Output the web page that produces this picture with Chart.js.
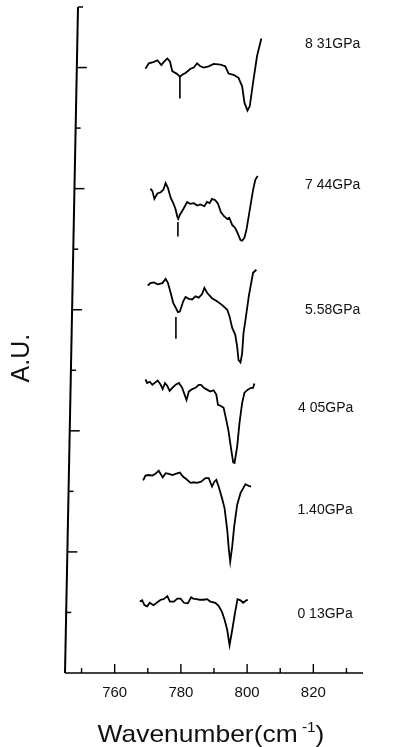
<!DOCTYPE html>
<html>
<head>
<meta charset="utf-8">
<script src="https://cdn.jsdelivr.net/npm/chart.js@4.4.1/dist/chart.umd.min.js"></script>
<style>
  html, body { margin: 0; padding: 0; background: #ffffff; }
  canvas { display: block; }
</style>
</head>
<body>
<canvas id="c" width="399" height="747"></canvas>
<script>
// ---- Data (wavenumber in cm^-1, intensity in arbitrary units incl. vertical offset) ----
const p831X = [769.3,770.3,771.7,772.9,774.1,774.8,775.9,776.7,777.4,778.7,779.7,780.4,781.4,782.9,783.9,784.9,785.9,786.9,788.4,789.9,791.9,793.4,794.4,795.9,797.4,798.5,799.2,800.1,800.8,801.8,803.0,804.3];
const p831Y = [9.98,10.07,10.09,10.12,10.04,10.09,10.15,10.10,9.94,9.90,9.85,9.88,9.91,9.98,10.00,10.07,10.02,10.00,10.02,10.06,10.05,10.02,9.90,9.88,9.83,9.69,9.42,9.29,9.36,9.75,10.19,10.48];

const p744X = [770.8,771.4,772.0,772.9,773.9,774.7,775.4,776.1,776.9,777.7,778.4,778.9,779.2,779.7,780.7,781.9,782.7,783.9,784.9,785.9,787.1,787.9,788.7,789.4,790.4,791.2,792.1,793.1,794.0,794.6,795.5,796.4,797.1,798.0,798.5,799.2,799.8,800.8,801.8,802.5,803.2];
const p744Y = [8.00,7.96,7.83,7.92,7.94,7.98,8.09,8.01,7.85,7.76,7.66,7.54,7.50,7.57,7.66,7.78,7.75,7.76,7.72,7.74,7.71,7.78,7.76,7.83,7.81,7.75,7.61,7.54,7.50,7.52,7.40,7.35,7.27,7.15,7.14,7.19,7.32,7.65,7.98,8.15,8.21];

const p558X = [770.0,770.8,771.8,773.0,774.4,775.4,776.1,776.9,777.7,778.4,779.1,779.7,780.7,781.4,782.4,783.4,784.4,785.4,786.4,787.1,787.9,789.4,790.9,792.4,794.0,794.7,795.5,796.4,797.0,797.4,798.0,798.5,798.9,799.5,800.5,801.8,802.8];
const p558Y = [6.40,6.44,6.45,6.42,6.44,6.51,6.44,6.28,6.11,6.04,5.96,5.97,6.14,6.21,6.18,6.17,6.22,6.20,6.26,6.36,6.28,6.19,6.14,6.08,6.00,5.89,5.70,5.59,5.39,5.17,5.13,5.28,5.61,5.83,6.22,6.61,6.66];

const p405X = [769.3,769.8,770.6,771.4,772.3,773.0,773.9,774.5,775.2,775.9,776.6,777.4,778.4,779.4,780.4,781.1,781.7,782.4,783.4,784.4,785.4,786.1,786.9,787.9,788.9,789.9,790.7,791.2,792.1,792.9,793.7,794.4,795.2,795.8,796.2,797.0,797.7,798.5,799.2,800.2,801.2,801.8,802.2];
const p405Y = [4.85,4.79,4.81,4.76,4.80,4.83,4.76,4.69,4.79,4.74,4.66,4.71,4.76,4.79,4.71,4.60,4.51,4.65,4.69,4.71,4.76,4.76,4.71,4.68,4.65,4.67,4.60,4.43,4.41,4.38,4.18,3.99,3.69,3.48,3.47,3.74,4.13,4.46,4.63,4.68,4.71,4.71,4.78];

const p140X = [768.6,769.3,770.3,771.4,772.3,773.3,774.5,775.4,776.4,777.4,778.4,779.7,780.7,781.7,782.9,783.9,784.9,786.1,787.4,788.4,789.4,790.1,790.7,791.4,792.4,793.2,794.0,794.5,794.9,795.5,796.1,797.0,798.0,798.8,799.5,800.5,801.2];
const p140Y = [3.18,3.26,3.27,3.26,3.29,3.34,3.23,3.30,3.29,3.27,3.29,3.31,3.24,3.20,3.14,3.15,3.14,3.16,3.22,3.22,3.08,3.16,3.19,3.08,2.89,2.72,2.36,2.03,1.84,2.09,2.42,2.78,2.97,3.05,3.12,3.09,3.08];

const p013X = [767.6,768.3,769.0,769.8,770.6,771.7,772.7,773.9,774.8,775.9,776.7,777.9,778.9,779.9,780.9,782.1,783.1,783.7,784.7,785.7,786.9,787.9,788.9,790.4,791.4,792.4,793.2,794.0,794.7,795.5,796.4,797.1,798.0,798.8,799.8,800.2];
const p013Y = [1.18,1.20,1.12,1.10,1.16,1.12,1.16,1.21,1.22,1.27,1.18,1.18,1.23,1.23,1.16,1.15,1.25,1.23,1.22,1.21,1.21,1.22,1.18,1.16,1.11,1.01,0.88,0.71,0.46,0.71,1.01,1.22,1.20,1.16,1.20,1.21];

// arrows marking the ~780 cm^-1 feature
const arrowX      = [779.7, 779.1, 778.5];
const arrowTop    = [9.85, 7.45, 5.88];
const arrowBottom = [9.49, 7.21, 5.52];

// pressure labels
const pressureLabels = ["8 31GPa", "7 44GPa", "5.58GPa", "4 05GPa", "1.40GPa", "0 13GPa"];

// axis ticks
const xMajorTicks = [760, 780, 800, 820];
const xMinorTicks = [750, 770, 790, 810, 830];
const yMajorTicks = [2, 4, 6, 8, 10];
const yMinorTicks = [1, 3, 5, 7, 9, 11];

// ---- build datasets ----
function pts(xs, ys) { return xs.map((x, i) => ({ x: x, y: ys[i] })); }
const series = [[p831X, p831Y], [p744X, p744Y], [p558X, p558Y], [p405X, p405Y], [p140X, p140Y], [p013X, p013Y]];
const datasets = series.map(s => ({
  data: pts(s[0], s[1]),
  borderColor: '#000', borderWidth: 1.8, pointRadius: 0, tension: 0, fill: false
}));
arrowX.forEach((x, i) => {
  datasets.push({
    data: [{ x: x, y: arrowTop[i] }, { x: x, y: arrowBottom[i] }],
    borderColor: '#000', borderWidth: 1.6, pointRadius: 0, fill: false
  });
});

// label anchor positions in data units (left edge x, centre y)
const labelAnchor = [[817.5, 10.38], [817.5, 8.05], [817.5, 6.00], [815.4, 4.38], [815.2, 2.69], [815.2, 0.98]];

const axesPlugin = {
  id: 'axesPlugin',
  afterDraw(chart) {
    const ctx = chart.ctx;
    const xs = chart.scales.x, ys = chart.scales.y;
    const a = chart.chartArea;
    const skew = 13; // scanned y axis leans slightly
    const axX = (py) => a.left + skew * (a.bottom - py) / (a.bottom - a.top);
    ctx.save();
    ctx.strokeStyle = '#000';
    ctx.lineCap = 'butt';
    // x axis
    ctx.lineWidth = 1.6;
    ctx.beginPath(); ctx.moveTo(a.left, a.bottom); ctx.lineTo(a.right, a.bottom); ctx.stroke();
    ctx.lineWidth = 1.4;
    xMajorTicks.forEach(v => { const p = xs.getPixelForValue(v); ctx.beginPath(); ctx.moveTo(p, a.bottom); ctx.lineTo(p, a.bottom - 9); ctx.stroke(); });
    xMinorTicks.forEach(v => { const p = xs.getPixelForValue(v); ctx.beginPath(); ctx.moveTo(p, a.bottom); ctx.lineTo(p, a.bottom - 5); ctx.stroke(); });
    // y axis
    ctx.lineWidth = 2;
    ctx.beginPath(); ctx.moveTo(a.left, a.bottom); ctx.lineTo(axX(a.top), a.top); ctx.stroke();
    ctx.lineWidth = 1.5;
    yMajorTicks.forEach(v => { const p = ys.getPixelForValue(v); const x0 = axX(p); ctx.beginPath(); ctx.moveTo(x0, p); ctx.lineTo(x0 + 10, p); ctx.stroke(); });
    yMinorTicks.forEach(v => { const p = ys.getPixelForValue(v); const x0 = axX(p); ctx.beginPath(); ctx.moveTo(x0, p); ctx.lineTo(x0 + 5, p); ctx.stroke(); });

    // pressure labels
    ctx.fillStyle = '#111';
    ctx.font = '14px "Liberation Sans", Arial, sans-serif';
    ctx.textAlign = 'left'; ctx.textBaseline = 'middle';
    pressureLabels.forEach((t, i) => {
      ctx.fillText(t, xs.getPixelForValue(labelAnchor[i][0]), ys.getPixelForValue(labelAnchor[i][1]));
    });

    // x title with superscript (slightly wide typeface in original)
    const cx = (a.left + a.right) / 2 - 3;
    const ty = chart.height - 5;
    const sx = 1.1;
    const mainFont = '24px "Liberation Sans", Arial, sans-serif';
    const supFont = '14px "Liberation Sans", Arial, sans-serif';
    const t1 = 'Wavenumber(cm', t2 = ' -1', t3 = ')';
    ctx.font = mainFont; const w1 = ctx.measureText(t1).width, w3 = ctx.measureText(t3).width;
    ctx.font = supFont; const w2 = ctx.measureText(t2).width;
    ctx.save();
    ctx.translate(cx, ty);
    ctx.scale(sx, 1);
    let x0 = -(w1 + w2 + w3) / 2;
    ctx.textBaseline = 'alphabetic';
    ctx.font = mainFont; ctx.fillText(t1, x0, 0); x0 += w1;
    ctx.font = supFont; ctx.fillText(t2, x0, -10); x0 += w2;
    ctx.font = mainFont; ctx.fillText(t3, x0, 0);
    ctx.restore();

    // y title
    ctx.save();
    ctx.translate(22, ys.getPixelForValue(5.2));
    ctx.rotate(-Math.PI / 2);
    ctx.font = '25px "Liberation Sans", Arial, sans-serif';
    ctx.textAlign = 'center'; ctx.textBaseline = 'middle';
    ctx.fillText('A.U.', 0, 0);
    ctx.restore();
    ctx.restore();
  }
};

new Chart(document.getElementById('c'), {
  type: 'line',
  data: { datasets: datasets },
  options: {
    responsive: false,
    animation: false,
    events: [],
    layout: { padding: { left: 65, top: 7, right: 36, bottom: 34 } },
    plugins: { legend: { display: false }, tooltip: { enabled: false } },
    scales: {
      x: {
        type: 'linear', min: 745, max: 835,
        grid: { display: false, drawTicks: false },
        border: { display: false },
        afterBuildTicks: (s) => { s.ticks = xMajorTicks.map(v => ({ value: v })); },
        ticks: { padding: 11, color: '#111', font: { family: '"Liberation Sans", Arial, sans-serif', size: 15 } }
      },
      y: {
        type: 'linear', min: 0, max: 11,
        grid: { display: false, drawTicks: false },
        border: { display: false },
        ticks: { display: false }
      }
    }
  },
  plugins: [axesPlugin]
});
</script>
</body>
</html>
